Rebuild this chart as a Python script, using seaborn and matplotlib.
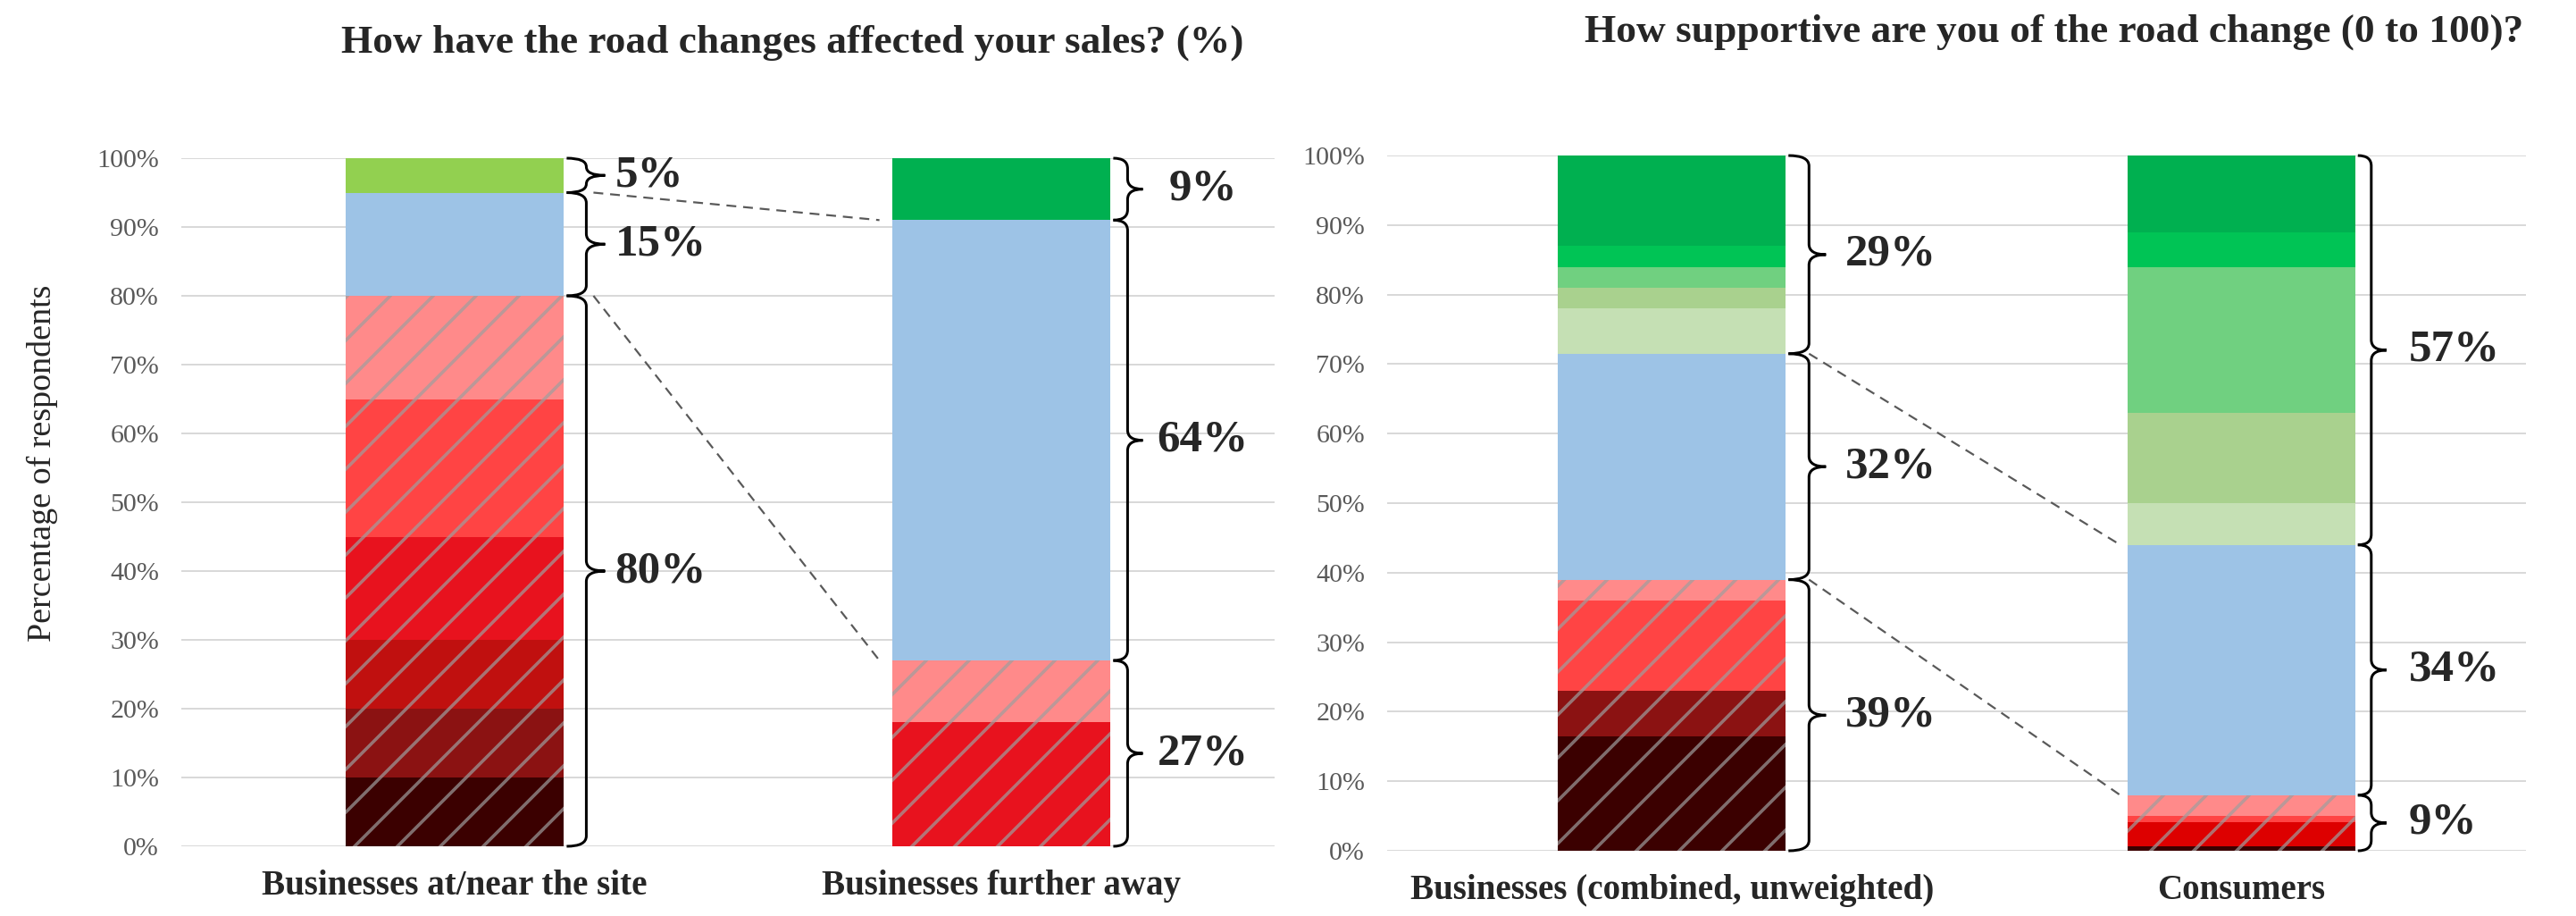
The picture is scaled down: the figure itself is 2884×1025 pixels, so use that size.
import matplotlib
matplotlib.use("Agg")
import matplotlib.pyplot as plt
import seaborn as sns
import pandas as pd
from matplotlib.path import Path
from matplotlib.patches import PathPatch

sns.set_style("white")
plt.rcParams['font.family'] = ['Liberation Serif', 'DejaVu Serif']
plt.rcParams['hatch.linewidth'] = 1.8

#Colours
DARKEST = '#3b0000'
DARKRED = '#8b1212'
MIDRED = '#c0100f'
RED = '#e8121e'
BRIGHTRED = '#dd0000'
CORAL = '#ff4444'
PINK = '#ff8a8a'
BLUE = '#9dc3e6'
LIME = '#92d050'
GREEN = '#00b050'
BRIGHTGREEN = '#00c455'
MIDGREEN = '#70d080'
SAGE = '#a9d18e'
PALESAGE = '#c5e0b4'
HATCHCOLOR = (0.62, 0.62, 0.62, 0.7)

#Data - left chart (sales)
salesCats = ['Businesses at/near the site', 'Businesses further away']
salesNear = [10, 10, 10, 15, 20, 15, 15, 5]
salesNearColors = [DARKEST, DARKRED, MIDRED, RED, CORAL, PINK, BLUE, LIME]
salesNearHatch = [1, 1, 1, 1, 1, 1, 0, 0]
salesNearGroups = [6, 1, 1]
salesNearLabels = ['80%', '15%', '5%']
salesFar = [18, 9, 64, 9]
salesFarColors = [RED, PINK, BLUE, GREEN]
salesFarHatch = [1, 1, 0, 0]
salesFarGroups = [2, 1, 1]
salesFarLabels = ['27%', '64%', '9%']

#Data - right chart (support)
supportCats = ['Businesses (combined, unweighted)', 'Consumers']
supportBiz = [16.5, 6.5, 13, 3, 32.5, 6.5, 3, 3, 3, 13]
supportBizColors = [DARKEST, DARKRED, CORAL, PINK, BLUE, PALESAGE, SAGE, MIDGREEN, BRIGHTGREEN, GREEN]
supportBizHatch = [1, 1, 1, 1, 0, 0, 0, 0, 0, 0]
supportBizGroups = [4, 1, 5]
supportBizLabels = ['39%', '32%', '29%']
supportCons = [0.7, 3.4, 0.9, 3, 36, 6, 13, 21, 5, 11]
supportConsColors = [DARKEST, BRIGHTRED, CORAL, PINK, BLUE, PALESAGE, SAGE, MIDGREEN, BRIGHTGREEN, GREEN]
supportConsHatch = [1, 1, 1, 1, 0, 0, 0, 0, 0, 0]
supportConsGroups = [4, 1, 5]
supportConsLabels = ['9%', '34%', '57%']

yTicks = list(range(0, 101, 10))

FIGW, FIGH, DPI = 2884, 1025, 144
fig = plt.figure(figsize=(FIGW / DPI, FIGH / DPI), dpi=DPI)
axLeft = fig.add_axes([0.0704, 0.0761, 0.4244, 0.7512])
axRight = fig.add_axes([0.5385, 0.0712, 0.4421, 0.759])


def pxToData(ax, px):
    return px / (ax.get_position().width * FIGW / 2.0)


def drawStack(ax, idx, order, values, colors, hatched):
    bottom = 0
    for v, c, h in zip(values, colors, hatched):
        df = pd.DataFrame({'group': [order[idx]], 'value': [v]})
        sns.barplot(data=df, x='group', y='value', order=order, color=c, saturation=1,
                    errorbar=None, width=0.4, bottom=bottom, linewidth=0,
                    edgecolor=HATCHCOLOR if h else c, hatch='/' if h else None,
                    ax=ax, zorder=2)
        bottom += v


def groupBounds(values, groups):
    bounds = [0]
    i = 0
    for g in groups:
        i += g
        bounds.append(sum(values[:i]))
    return bounds


def drawBrace(ax, x0, x1, x2, yLow, yHigh, r):
    r = min(r, (yHigh - yLow) / 4)
    mid = (yLow + yHigh) / 2
    verts = [(x0, yHigh), (x1, yHigh), (x1, yHigh - r),
             (x1, mid + r),
             (x1, mid), (x2, mid),
             (x1, mid), (x1, mid - r),
             (x1, yLow + r),
             (x1, yLow), (x0, yLow)]
    codes = [Path.MOVETO, Path.CURVE3, Path.CURVE3, Path.LINETO,
             Path.CURVE3, Path.CURVE3, Path.CURVE3, Path.CURVE3,
             Path.LINETO, Path.CURVE3, Path.CURVE3]
    ax.add_patch(PathPatch(Path(verts, codes), fill=False, lw=1.5, edgecolor='black',
                           clip_on=False, zorder=4))


def drawBraces(ax, idx, values, groups, labels, vertPx, tipPx, labelPx, ha):
    right = idx + 0.2
    x0 = right + pxToData(ax, 3)
    x1 = right + pxToData(ax, vertPx)
    x2 = right + pxToData(ax, tipPx)
    bounds = groupBounds(values, groups)
    for k, lab in enumerate(labels):
        drawBrace(ax, x0, x1, x2, bounds[k], bounds[k + 1], 1.5)
        ax.text(right + pxToData(ax, labelPx), (bounds[k] + bounds[k + 1]) / 2, lab,
                ha=ha, va='center', fontsize=25.5, fontweight='bold', clip_on=False)
    return bounds


def drawLinks(ax, boundsA, boundsB, startPx, endPx):
    xStart = 0.2 + pxToData(ax, startPx)
    xEnd = 0.8 - pxToData(ax, endPx)
    for k in (1, 2):
        ax.plot([xStart, xEnd], [boundsA[k], boundsB[k]], color='#595959', lw=1.1,
                linestyle=(0, (5, 3.5)), zorder=3, clip_on=False)


def styleAxis(ax, cats):
    ax.set_xlim(-0.5, 1.5)
    ax.set_ylim(0, 100)
    ax.set_yticks(yTicks)
    ax.set_yticklabels([f'{t}%' for t in yTicks], color='#595959', fontsize=15)
    ax.set_xticks([0, 1])
    ax.set_xticklabels(cats, fontsize=19.5, fontweight='bold')
    ax.tick_params(axis='y', length=0, pad=12.5)
    ax.tick_params(axis='x', length=0, pad=13)
    ax.yaxis.grid(True, color='#d9d9d9', lw=1.0)
    ax.xaxis.grid(False)
    ax.set_axisbelow(True)
    ax.set_xlabel('')
    ax.set_ylabel('')
    sns.despine(ax=ax, left=True, bottom=True)


#Left chart
drawStack(axLeft, 0, salesCats, salesNear, salesNearColors, salesNearHatch)
drawStack(axLeft, 1, salesCats, salesFar, salesFarColors, salesFarHatch)
styleAxis(axLeft, salesCats)
bNear = drawBraces(axLeft, 0, salesNear, salesNearGroups, salesNearLabels, 25, 46, 57, 'left')
bFar = drawBraces(axLeft, 1, salesFar, salesFarGroups, salesFarLabels, 19, 36, 103, 'center')
drawLinks(axLeft, bNear, bFar, 33, 14)

#Right chart
drawStack(axRight, 0, supportCats, supportBiz, supportBizColors, supportBizHatch)
drawStack(axRight, 1, supportCats, supportCons, supportConsColors, supportConsHatch)
styleAxis(axRight, supportCats)
bBiz = drawBraces(axRight, 0, supportBiz, supportBizGroups, supportBizLabels, 26, 45, 67, 'left')
bCons = drawBraces(axRight, 1, supportCons, supportConsGroups, supportConsLabels, 18, 35, 60, 'left')
drawLinks(axRight, bBiz, bCons, 26, 8)

fig.text(0.3076, 0.953, 'How have the road changes affected your sales? (%)',
         ha='center', va='center', fontsize=22.7, fontweight='bold')
fig.text(0.7975, 0.965, 'How supportive are you of the road change (0 to 100)?',
         ha='center', va='center', fontsize=22.7, fontweight='bold')
fig.text(0.0163, 0.4946, 'Percentage of respondents', rotation=90,
         ha='center', va='center', fontsize=19)

fig.savefig('out.png', dpi=DPI)
